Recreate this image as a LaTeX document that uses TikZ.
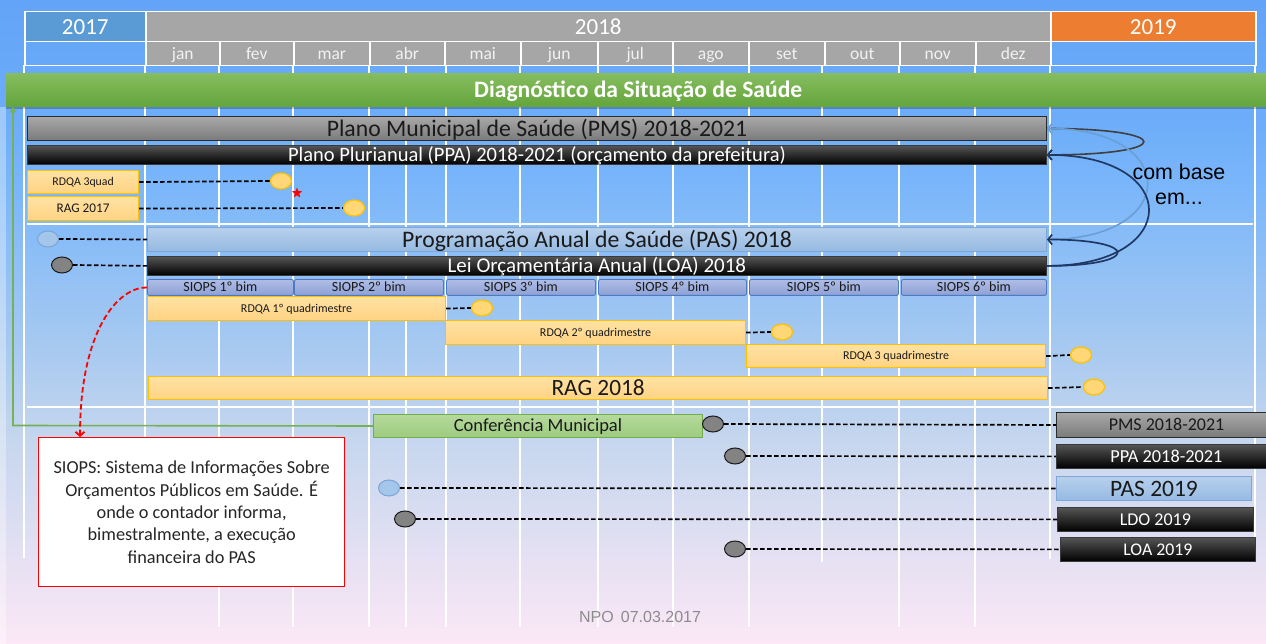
\documentclass[tikz,border=0pt]{standalone}
\usepackage{fontspec}
\setmainfont{Carlito}
\newfontfamily\arialfam{Liberation Sans}
\usetikzlibrary{arrows.meta,shapes.geometric,calc}
\newcommand\fsz[1]{\fontsize{#1}{#1}\selectfont}

\definecolor{bgtop}{HTML}{63A4F8}
\definecolor{bgtopb}{HTML}{6CACF9}
\definecolor{bgA}{HTML}{7CB7FA}
\definecolor{bgB}{HTML}{A9CAF0}
\definecolor{bgC}{HTML}{C5D6EE}
\definecolor{bgbot}{HTML}{FCE8F6}
\pgfdeclareverticalshading{bgshade}{100bp}{color(0bp)=(bgbot); color(25bp)=(bgbot); color(41bp)=(bgC); color(47.5bp)=(bgB); color(60bp)=(bgA); color(66bp)=(bgtopb); color(75bp)=(bgtop); color(100bp)=(bgtop)}

\definecolor{c2017}{HTML}{5B9BD5}
\definecolor{c2018}{HTML}{A6A6A6}
\definecolor{c2019}{HTML}{ED7D31}
\definecolor{monthtxt}{HTML}{F2F2F2}
\definecolor{greentop}{HTML}{86BD5F}
\definecolor{greenbot}{HTML}{64A53C}
\definecolor{greenln}{HTML}{77B155}
\definecolor{graytop}{HTML}{A9A9A9}
\definecolor{graybot}{HTML}{7A7A7A}
\definecolor{grayedge}{HTML}{2B2B2B}
\definecolor{blacktop}{HTML}{555555}
\definecolor{blackedge}{HTML}{3A3A3A}
\definecolor{orgtop}{HTML}{FFE2A4}
\definecolor{orgbot}{HTML}{FFD382}
\definecolor{orgedge}{HTML}{FFC000}
\definecolor{pastop}{HTML}{B7D0EC}
\definecolor{pasbot}{HTML}{96BAE3}
\definecolor{pasedge}{HTML}{7EA6D6}
\definecolor{siotop}{HTML}{AFBDE6}
\definecolor{siobot}{HTML}{8EA0D6}
\definecolor{sioedge}{HTML}{4E7AC2}
\definecolor{conftop}{HTML}{B5D99C}
\definecolor{confbot}{HTML}{9CCB7E}
\definecolor{confedge}{HTML}{72AE4C}
\definecolor{ellorg}{HTML}{FFD777}
\definecolor{ellgray}{HTML}{838383}
\definecolor{ellblue}{HTML}{A4C6EA}
\definecolor{ellblueedge}{HTML}{7AA4D6}
\definecolor{txtdark}{HTML}{1A1A1A}
\definecolor{redtxt}{HTML}{262626}
\definecolor{curvegray}{HTML}{404040}
\definecolor{curvelight}{HTML}{6A9FD4}
\definecolor{curvenavy}{HTML}{1F3864}
\definecolor{npogray}{HTML}{8C8C8C}

\begin{document}
\begin{tikzpicture}[x=1pt,y=-1pt,
  capfont/.style={font=\fsz{#1}, text height={0.644*#1}, text depth=0pt},
  hdr/.style={draw=white, line width=1.5pt, inner sep=0pt, anchor=north west, text=white, capfont=23},
  monthcell/.style={draw=white, line width=1.5pt, fill=c2018, inner sep=0pt, anchor=north west, text=monthtxt, font=\fsz{17.5}, text height=12.5, text depth=0, minimum height=24},
  gridln/.style={white, line width=1.6pt},
  gridlnh/.style={white, line width=2.6pt},
  bar/.style={inner sep=0pt, anchor=north west},
  graybar/.style={bar, draw=grayedge, line width=1pt, top color=graytop, bottom color=graybot, text=txtdark},
  blackbar/.style={bar, draw=blackedge, line width=0.8pt, top color=blacktop, middle color=black, bottom color=black, text=white},
  orgbox/.style={bar, draw=orgedge, line width=1.2pt, top color=orgtop, bottom color=orgbot, text=txtdark},
  pasbar/.style={bar, draw=pasedge, line width=1pt, top color=pastop, bottom color=pasbot, text=txtdark},
  siobox/.style={bar, draw=sioedge, line width=0.9pt, rounded corners=2pt, top color=siotop, bottom color=siobot, text=txtdark, capfont=14, minimum height=16},
  confbox/.style={bar, draw=confedge, line width=1pt, top color=conftop, bottom color=confbot, text=txtdark},
  ellbase/.style={ellipse, inner sep=0pt, minimum width=21, minimum height=16},
  oell/.style={ellbase, fill=ellorg, draw=orgedge, line width=1.2pt},
  gell/.style={ellbase, fill=ellgray, draw=txtdark, line width=1pt},
  bell/.style={ellbase, fill=ellblue, draw=ellblueedge, line width=1pt},
  dsh/.style={black, line width=1.7pt, dash pattern=on 4.5pt off 2.5pt},
  curvetip/.style={-{Straight Barb[length=4pt,width=10pt]}}
]
\useasboundingbox (0,0) rectangle (1266,644);
\shade[shading=bgshade] (0,0) rectangle (1266,644);
\fill[white,opacity=0.35] (0,107) rectangle (6,644);

% grid
\foreach \xx/\yy in {24/558,145/558,219/627,293/627,369/627,406/627,446/627,520/627,598/627,673/627,749/627,822/562,899/627,975/627,1050/559,1255/559}
  \draw[gridln] (\xx,65) -- (\xx,\yy);
\draw[gridlnh] (27,224) -- (1253,224);
\draw[gridlnh] (27,407) -- (1253,407);

% header
\node[hdr, fill=c2017, minimum width=121, minimum height=30] (y2017) at (24,11) {2017};
\node[hdr, fill=c2018, minimum width=905, minimum height=30] (y2018) at (145,11) {2018};
\node[hdr, fill=c2019, minimum width=205, minimum height=30] (y2019) at (1050,11) {2019};
\node[hdr, minimum width=121, minimum height=24] (e2017) at (24,41) {};
\node[hdr, minimum width=205, minimum height=24] (e2019) at (1050,41) {};
\foreach \mn/\xa/\xb in {jan/145/219,fev/219/293,mar/293/369,abr/369/444,mai/444/520,jun/520/597,jul/597/672,ago/672/748,set/748/824,out/824/899,nov/899/975,dez/975/1050}
  \node[monthcell, minimum width={\xb-\xa}] (m\mn) at (\xa,41) {\mn};

% green bar
\fill[black,opacity=0.22] (6,106) rectangle (1270,109);
\node[bar, top color=greentop, bottom color=greenbot, text=white, font=\bfseries\fsz{23.6}, text height=15.2, text depth=0, minimum width=1264, minimum height=33] (diag) at (6,73) {Diagnóstico da Situação de Saúde};

% 2018 plans
\node[graybar, capfont=23.7, minimum width=1019, minimum height=24] (pms) at (27,116) {Plano Municipal de Saúde (PMS) 2018-2021};
\node[blackbar, capfont=20.5, minimum width=1019, minimum height=19] (ppa) at (27,145) {Plano Plurianual (PPA) 2018-2021 (orçamento da prefeitura)};
\node[orgbox, capfont=11.8, minimum width=111, minimum height=23] (rdqa3q) at (27,170) {RDQA 3quad};
\node[orgbox, capfont=13.2, minimum width=111, minimum height=24] (rag17) at (27,196) {RAG 2017};
\node[oell] (e3q) at (281,181) {};
\node[oell] (erag17) at (354,208) {};
\node[star, star points=5, star point ratio=2.4, fill=red, inner sep=0pt, minimum size=11] (redstar) at (297,193) {};
\draw[dsh] (rdqa3q.east) -- (e3q.west);
\draw[dsh] (rag17.east) -- (erag17.west);

\node[pasbar, capfont=23.7, minimum width=899, minimum height=24] (pas) at (147,227) {Programação Anual de Saúde (PAS) 2018};
\node[blackbar, capfont=21, minimum width=899, minimum height=19] (loa) at (147,256) {Lei Orçamentária Anual (LOA) 2018};
\node[bell] (epas) at (48,239) {};
\node[gell] (eloa) at (62,265) {};
\draw[dsh] (epas.east) -- (pas.west);
\draw[dsh] (eloa.east) -- (loa.west);

\node[siobox, minimum width=146] (s1) at (147,279) {SIOPS 1º bim};
\node[siobox, minimum width=149] (s2) at (294,279) {SIOPS 2º bim};
\node[siobox, minimum width=149] (s3) at (446,279) {SIOPS 3º bim};
\node[siobox, minimum width=148] (s4) at (598,279) {SIOPS 4º bim};
\node[siobox, minimum width=149] (s5) at (749,279) {SIOPS 5º bim};
\node[siobox, minimum width=145] (s6) at (901,279) {SIOPS 6º bim};

\node[orgbox, capfont=12, minimum width=298, minimum height=24] (r1) at (147,296) {RDQA 1º quadrimestre};
\node[orgbox, capfont=12, minimum width=300, minimum height=24] (r2) at (445,320) {RDQA 2º quadrimestre};
\node[orgbox, capfont=12, minimum width=299, minimum height=23] (r3) at (746,344) {RDQA 3 quadrimestre};
\node[orgbox, capfont=23.3, minimum width=899, minimum height=23] (rag18) at (148,376) {RAG 2018};
\node[oell] (er1) at (482,308) {};
\node[oell] (er2) at (782,332) {};
\node[oell] (er3) at (1081,355) {};
\node[oell] (erag18) at (1094,387) {};
\draw[dsh] (r1.east) -- (er1.west);
\draw[dsh] (r2.east) -- (er2.west);
\draw[dsh] (r3.east) -- (er3.west);
\draw[dsh] (rag18.east) -- (erag18.west);

% conference and 2019
\node[confbox, capfont=18.5, minimum width=329, minimum height=23] (conf) at (373,414) {Conferência Municipal};
\node[graybar, capfont=18, minimum width=220, minimum height=25] (pms19) at (1056,412) {PMS 2018-2021};
\node[blackbar, capfont=18.3, minimum width=220, minimum height=24] (ppa19) at (1056,444) {PPA 2018-2021};
\node[pasbar, capfont=23.5, minimum width=195, minimum height=24] (pas19) at (1056,476) {PAS 2019};
\node[blackbar, capfont=18, minimum width=196, minimum height=24] (ldo19) at (1057,507) {LDO 2019};
\node[blackbar, capfont=17.8, minimum width=195, minimum height=24] (loa19) at (1060,537) {LOA 2019};
\node[gell] (econf) at (713,424) {};
\node[gell] (eppa) at (735,456) {};
\node[bell] (epas19) at (389,488) {};
\node[gell] (eldo) at (405,519) {};
\node[gell] (eloa19) at (735,549) {};
\draw[dsh] (econf.east) -- (pms19.west);
\draw[dsh] (eppa.east) -- (ppa19.west);
\draw[dsh] (epas19.east) -- (pas19.west);
\draw[dsh] (eldo.east) -- (ldo19.west);
\draw[dsh] (eloa19.east) -- (loa19.west);

% green feedback line
\coordinate (gcorner) at (13,425.5);
\draw[greenln, line width=1.6pt, -{Triangle[length=6pt,width=6pt]}] (conf.west) -- (gcorner) -- (gcorner |- diag.south);

% red note
\node[bar, draw=red, line width=1.3pt, fill=white, text=redtxt, align=center, font=\fontsize{18.3}{22.4}\selectfont, minimum width=306, minimum height=149] (note) at (38,437) {SIOPS: Sistema de Informações Sobre\\Orçamentos Públicos em Saúde. É\\onde o contador informa,\\bimestralmente, a execução\\financeira do PAS};
\draw[red, line width=1.8pt, dash pattern=on 5.5pt off 3pt, -{Straight Barb[length=4pt,width=9pt]}] (s1.west) .. controls (118,287) and (80,330) .. ($(note.north west)+(42,0)$);

% com base em curves
\draw[curvegray, line width=1.6pt, curvetip] (pms.east) .. controls +(129,0) and +(129,0) .. (ppa.east);
\draw[curvelight, line width=1.6pt, curvetip] (pas.east) .. controls +(134,0) and +(134,0) .. (pms.east);
\draw[curvenavy, line width=1.7pt, curvetip] (loa.east) .. controls +(136,0) and +(136,0) .. (ppa.east);
\draw[curvenavy, line width=1.7pt, curvetip] (loa.east) .. controls +(94,0) and +(94,0) .. (pas.east);
\node[font=\arialfam\fontsize{21.4}{25}\selectfont, align=center, text=black] (cb) at (1179,184) {com base\\em...};

\node[font=\arialfam\fsz{16}, text=npogray] (npo) at (640,617) {NPO\hspace{0.45em}07.03.2017};
\end{tikzpicture}
\end{document}
